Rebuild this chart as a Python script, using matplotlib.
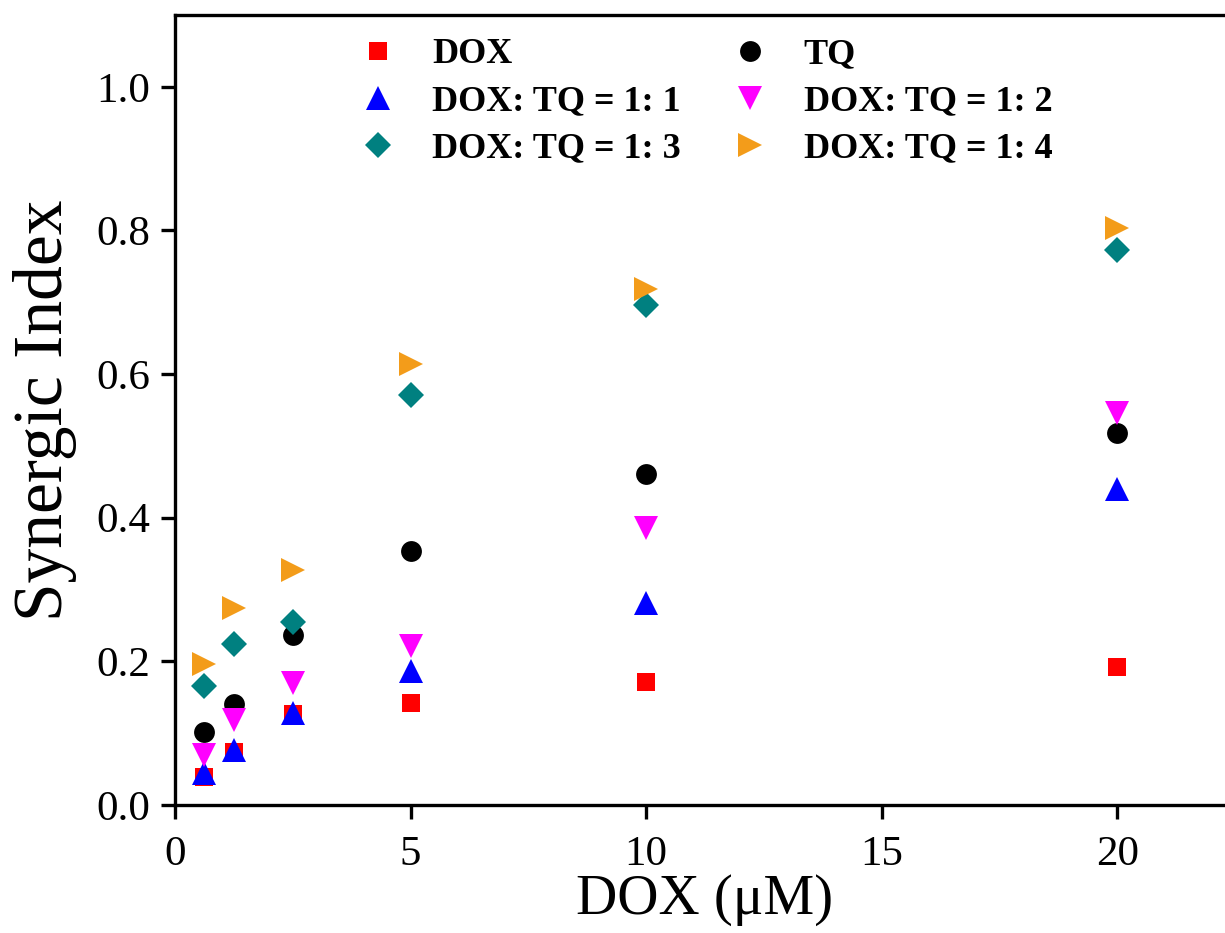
import matplotlib
matplotlib.use("Agg")
import matplotlib.pyplot as plt

# DOX concentration (uM)
dox_conc = [0.625, 1.25, 2.5, 5, 10, 20]

# synergic index per group
si_dox = [0.039, 0.074, 0.127, 0.142, 0.171, 0.192]
si_tq = [0.102, 0.141, 0.237, 0.354, 0.461, 0.518]
si_11 = [0.045, 0.076, 0.128, 0.187, 0.281, 0.440]
si_12 = [0.070, 0.118, 0.170, 0.221, 0.386, 0.546]
si_13 = [0.166, 0.224, 0.255, 0.571, 0.696, 0.773]
si_14 = [0.196, 0.274, 0.327, 0.614, 0.719, 0.804]

labels = ["DOX", "TQ", "DOX: TQ = 1: 1", "DOX: TQ = 1: 2",
          "DOX: TQ = 1: 3", "DOX: TQ = 1: 4"]

plt.rcParams["font.family"] = ["Liberation Serif", "DejaVu Serif"]

fig = plt.figure(figsize=(12.25, 9.33), dpi=100)
ax = fig.add_axes([175 / 1225, 128 / 933, 1060 / 1225, 790 / 933])

h_dox, = ax.plot(dox_conc, si_dox, "s", color="#ff0000", ms=13, mew=0)
h_tq, = ax.plot(dox_conc, si_tq, "o", color="black", ms=15, mew=0)
h_11, = ax.plot(dox_conc, si_11, "^", color="#0000ff", ms=17, mew=0)
h_12, = ax.plot(dox_conc, si_12, "v", color="#ff00ff", ms=17, mew=0)
h_13, = ax.plot(dox_conc, si_13, "D", color="#008080", ms=13, mew=0)
h_14, = ax.plot(dox_conc, si_14, ">", color="#f39c1a", ms=17, mew=0)

ax.set_xlim(0, 22.5)
ax.set_ylim(0, 1.1)
ax.set_xticks([0, 5, 10, 15, 20])
ax.set_yticks([0.0, 0.2, 0.4, 0.6, 0.8, 1.0])
ax.set_yticklabels(["0.0", "0.2", "0.4", "0.6", "0.8", "1.0"])

ax.tick_params(direction="out", length=10, width=2.4, labelsize=31)
ax.tick_params(axis="x", pad=12)
ax.tick_params(axis="y", pad=8)
for s in ax.spines.values():
    s.set_linewidth(2.4)

ax.set_xlabel("DOX (μM)", fontsize=41, labelpad=0)
ax.set_ylabel("Synergic Index", fontsize=50, labelpad=14)

handles = [h_dox, h_11, h_13, h_tq, h_12, h_14]
names = [labels[0], labels[2], labels[4], labels[1], labels[3], labels[5]]
fig.legend(handles, names, loc="upper left", bbox_to_anchor=(342 / 1225, 1 - 38 / 933),
           ncol=2, frameon=False, prop={"weight": "bold", "size": 26},
           handlelength=2.0, handletextpad=0.5, columnspacing=0.9,
           labelspacing=0.38, borderpad=0, borderaxespad=0, numpoints=1)

fig.savefig("out.png", dpi=100)
